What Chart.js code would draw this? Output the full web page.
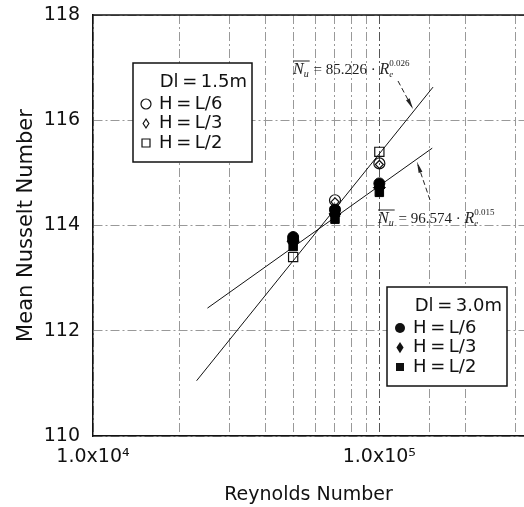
<!DOCTYPE html>
<html>
<head>
<meta charset="utf-8">
<script src="https://cdn.jsdelivr.net/npm/chart.js@4/dist/chart.umd.min.js"></script>
<style>
    html, body { margin: 0; padding: 0; background: #fff; }
</style>
</head>
<body>
<canvas id="myChart" width="524" height="507"></canvas>
<script>
const reynolds = [5e4, 7e4, 1e5]

// Dl = 1.5m, open markers
const small_L6 = [113.72, 114.48, 115.18]
const small_L3 = [113.68, 114.45, 115.16]
const small_L2 = [113.40, 114.26, 115.40]

// Dl = 3.0m, filled markers
const large_L6 = [113.78, 114.30, 114.80]
const large_L3 = [113.70, 114.22, 114.72]
const large_L2 = [113.60, 114.12, 114.63]

// fitted lines, end points
const fitA_re = [2.3e4, 1.54e5]
const fitA_nu = [111.05, 116.63]
const fitB_re = [2.51e4, 1.53e5]
const fitB_nu = [112.43, 115.47]

const yTicks = [110, 112, 114, 116, 118]
const xTickLabels = { 10000: '1.0x10\u2074', 100000: '1.0x10\u2075' }

const legendSmall = ['Dl\u2009=\u20091.5m', 'H\u2009=\u2009L/6', 'H\u2009=\u2009L/3', 'H\u2009=\u2009L/2']
const legendLarge = ['Dl\u2009=\u20093.0m', 'H\u2009=\u2009L/6', 'H\u2009=\u2009L/3', 'H\u2009=\u2009L/2']
const fitTexts = [['85.226', '0.026'], ['96.574', '0.015']]

const SANS = '"DejaVu Sans", sans-serif'
const SERIF = '"Liberation Serif", serif'

function pts(xs, ys) {
    return xs.map((x, i) => ({ x: x, y: ys[i] }))
}

function marker(ctx, style, filled, x, y, r) {
    ctx.beginPath()
    if (style === 'circle') {
        ctx.arc(x, y, r, 0, Math.PI * 2)
    } else if (style === 'diamond') {
        ctx.moveTo(x, y - r * 1.25)
        ctx.lineTo(x + r * 0.8, y)
        ctx.lineTo(x, y + r * 1.25)
        ctx.lineTo(x - r * 0.8, y)
        ctx.closePath()
    } else {
        ctx.rect(x - r, y - r, r * 2, r * 2)
    }
    if (filled) ctx.fill()
    else ctx.stroke()
}

function legendBox(ctx, x, y, w, h, lines, filled) {
    ctx.save()
    ctx.fillStyle = '#fff'
    ctx.fillRect(x, y, w, h)
    ctx.lineWidth = 1.5
    ctx.strokeStyle = '#111'
    ctx.strokeRect(x, y, w, h)
    ctx.fillStyle = '#111'
    ctx.font = '18px ' + SANS
    ctx.textBaseline = 'middle'
    ctx.textAlign = 'right'
    ctx.fillText(lines[0], x + w - 5, y + 19)
    ctx.textAlign = 'left'
    const styles = ['circle', 'diamond', 'square']
    const sizes = filled ? [5, 4.5, 4] : [5, 3.6, 4]
    for (let i = 0; i < 3; i++) {
        const ly = y + 41 + i * 19.5
        ctx.lineWidth = 1.2
        marker(ctx, styles[i], filled, x + 13, ly, sizes[i])
        ctx.fillText(lines[i + 1], x + 26, ly)
    }
    ctx.restore()
}

function fitLabel(ctx, x, y, coef, expo) {
    ctx.save()
    ctx.fillStyle = '#222'
    ctx.strokeStyle = '#222'
    ctx.textBaseline = 'alphabetic'
    ctx.font = 'italic 16px ' + SERIF
    ctx.fillText('N', x, y)
    let w = ctx.measureText('N').width
    ctx.font = 'italic 10px ' + SERIF
    ctx.fillText('u', x + w, y + 3)
    w += ctx.measureText('u').width + 1
    ctx.lineWidth = 1
    ctx.beginPath()
    ctx.moveTo(x, y - 13)
    ctx.lineTo(x + w, y - 13)
    ctx.stroke()
    ctx.font = '15px ' + SERIF
    const mid = ' = ' + coef + ' \u00b7 '
    ctx.fillText(mid, x + w, y)
    w += ctx.measureText(mid).width
    ctx.font = 'italic 16px ' + SERIF
    ctx.fillText('R', x + w, y)
    w += ctx.measureText('R').width
    ctx.font = 'italic 9px ' + SERIF
    ctx.fillText('e', x + w, y + 3)
    ctx.font = '9px ' + SERIF
    ctx.fillText(expo, x + w, y - 8)
    ctx.restore()
}

function leader(ctx, x1, y1, x2, y2) {
    ctx.save()
    ctx.strokeStyle = '#222'
    ctx.fillStyle = '#222'
    ctx.lineWidth = 1
    ctx.setLineDash([5, 3])
    ctx.beginPath()
    ctx.moveTo(x1, y1)
    ctx.lineTo(x2, y2)
    ctx.stroke()
    ctx.setLineDash([])
    const a = Math.atan2(y2 - y1, x2 - x1)
    ctx.beginPath()
    ctx.moveTo(x2, y2)
    ctx.lineTo(x2 - 11 * Math.cos(a) + 2 * Math.sin(a), y2 - 11 * Math.sin(a) - 2 * Math.cos(a))
    ctx.lineTo(x2 - 11 * Math.cos(a) - 2 * Math.sin(a), y2 - 11 * Math.sin(a) + 2 * Math.cos(a))
    ctx.closePath()
    ctx.fill()
    ctx.restore()
}

const decor = {
    id: 'decor',
    afterDraw(chart) {
        const ctx = chart.ctx
        const a = chart.chartArea
        const L = a.left, T = a.top
        // top edge of the frame
        ctx.save()
        ctx.strokeStyle = '#111'
        ctx.lineWidth = 1.5
        ctx.beginPath()
        ctx.moveTo(L, T)
        ctx.lineTo(a.right, T)
        ctx.stroke()
        ctx.restore()

        legendBox(ctx, L + 40, T + 48, 119, 99, legendSmall, false)
        legendBox(ctx, L + 294, T + 272, 120, 99, legendLarge, true)

        fitLabel(ctx, L + 200, T + 59, fitTexts[0][0], fitTexts[0][1])
        leader(ctx, L + 305, T + 66, L + 320, T + 94)
        fitLabel(ctx, L + 285, T + 208, fitTexts[1][0], fitTexts[1][1])
        leader(ctx, L + 337, T + 185, L + 324, T + 147)
    }
}

const gridColor = (c) => {
    if (c.tick && c.tick.value > 3.1e5) return 'rgba(0,0,0,0)'
    if (c.tick && c.tick.value === 1e5) return '#555'
    return '#999'
}

const ctx = document.getElementById('myChart').getContext('2d')
const chart = new Chart(ctx, {
    type: 'scatter',
    data: {
        datasets: [
            {
                label: 'fit Dl=1.5m',
                data: pts(fitA_re, fitA_nu),
                showLine: true,
                borderColor: '#111',
                borderWidth: 1,
                pointRadius: 0,
                order: 9
            },
            {
                label: 'fit Dl=3.0m',
                data: pts(fitB_re, fitB_nu),
                showLine: true,
                borderColor: '#111',
                borderWidth: 1,
                pointRadius: 0,
                order: 8
            },
            {
                label: 'Dl=1.5m H=L/6',
                data: pts(reynolds, small_L6),
                pointStyle: 'circle',
                pointRadius: 5.5,
                borderColor: '#111',
                borderWidth: 1.2,
                backgroundColor: 'rgba(0,0,0,0)',
                order: 7
            },
            {
                label: 'Dl=1.5m H=L/3',
                data: pts(reynolds, small_L3),
                pointStyle: 'rectRot',
                pointRadius: 4,
                borderColor: '#111',
                borderWidth: 1.2,
                backgroundColor: 'rgba(0,0,0,0)',
                order: 6
            },
            {
                label: 'Dl=1.5m H=L/2',
                data: pts(reynolds, small_L2),
                pointStyle: 'rect',
                pointRadius: 6.5,
                borderColor: '#111',
                borderWidth: 1.2,
                backgroundColor: 'rgba(0,0,0,0)',
                order: 5
            },
            {
                label: 'Dl=3.0m H=L/6',
                data: pts(reynolds, large_L6),
                pointStyle: 'circle',
                pointRadius: 5.5,
                borderColor: '#000',
                backgroundColor: '#000',
                order: 3
            },
            {
                label: 'Dl=3.0m H=L/3',
                data: pts(reynolds, large_L3),
                pointStyle: 'rectRot',
                pointRadius: 6,
                borderColor: '#000',
                backgroundColor: '#000',
                order: 2
            },
            {
                label: 'Dl=3.0m H=L/2',
                data: pts(reynolds, large_L2),
                pointStyle: 'rect',
                pointRadius: 6,
                borderColor: '#000',
                backgroundColor: '#000',
                order: 1
            }
        ]
    },
    options: {
        responsive: false,
        animation: false,
        layout: {
            autoPadding: false,
            padding: { left: 0, top: 15, right: 0, bottom: 0 }
        },
        plugins: {
            legend: { display: false },
            tooltip: { enabled: false }
        },
        scales: {
            x: {
                type: 'logarithmic',
                min: 1e4,
                max: 3.2e5,
                afterFit: (s) => {
                    s.height = 71
                    s.paddingLeft = 0
                    s.paddingRight = 0
                },
                title: {
                    display: true,
                    text: 'Reynolds Number',
                    color: '#111',
                    font: { family: SANS, size: 19 },
                    padding: { top: 0, bottom: 1 }
                },
                ticks: {
                    color: '#111',
                    font: { family: SANS, size: 19 },
                    padding: 10,
                    autoSkip: false,
                    maxRotation: 0,
                    callback: (v) => xTickLabels[v] || ''
                },
                grid: {
                    drawTicks: false,
                    color: gridColor,
                    lineWidth: 1
                },
                border: {
                    color: '#111',
                    width: 1.5,
                    dash: [9, 3, 2, 3]
                }
            },
            y: {
                min: 110,
                max: 118,
                afterFit: (s) => {
                    s.width = 93
                    s.paddingTop = 0
                    s.paddingBottom = 0
                },
                afterBuildTicks: (s) => { s.ticks = yTicks.map(v => ({ value: v })) },
                title: {
                    display: true,
                    text: 'Mean Nusselt Number',
                    color: '#111',
                    font: { family: SANS, size: 21 },
                    padding: { top: 14, bottom: 0 }
                },
                ticks: {
                    color: '#111',
                    font: { family: SANS, size: 19 },
                    padding: 13
                },
                grid: {
                    drawTicks: false,
                    color: '#999',
                    lineWidth: 1
                },
                border: {
                    color: '#111',
                    width: 1.5,
                    dash: [9, 3, 2, 3]
                }
            }
        }
    },
    plugins: [decor]
})
</script>
</body>
</html>
